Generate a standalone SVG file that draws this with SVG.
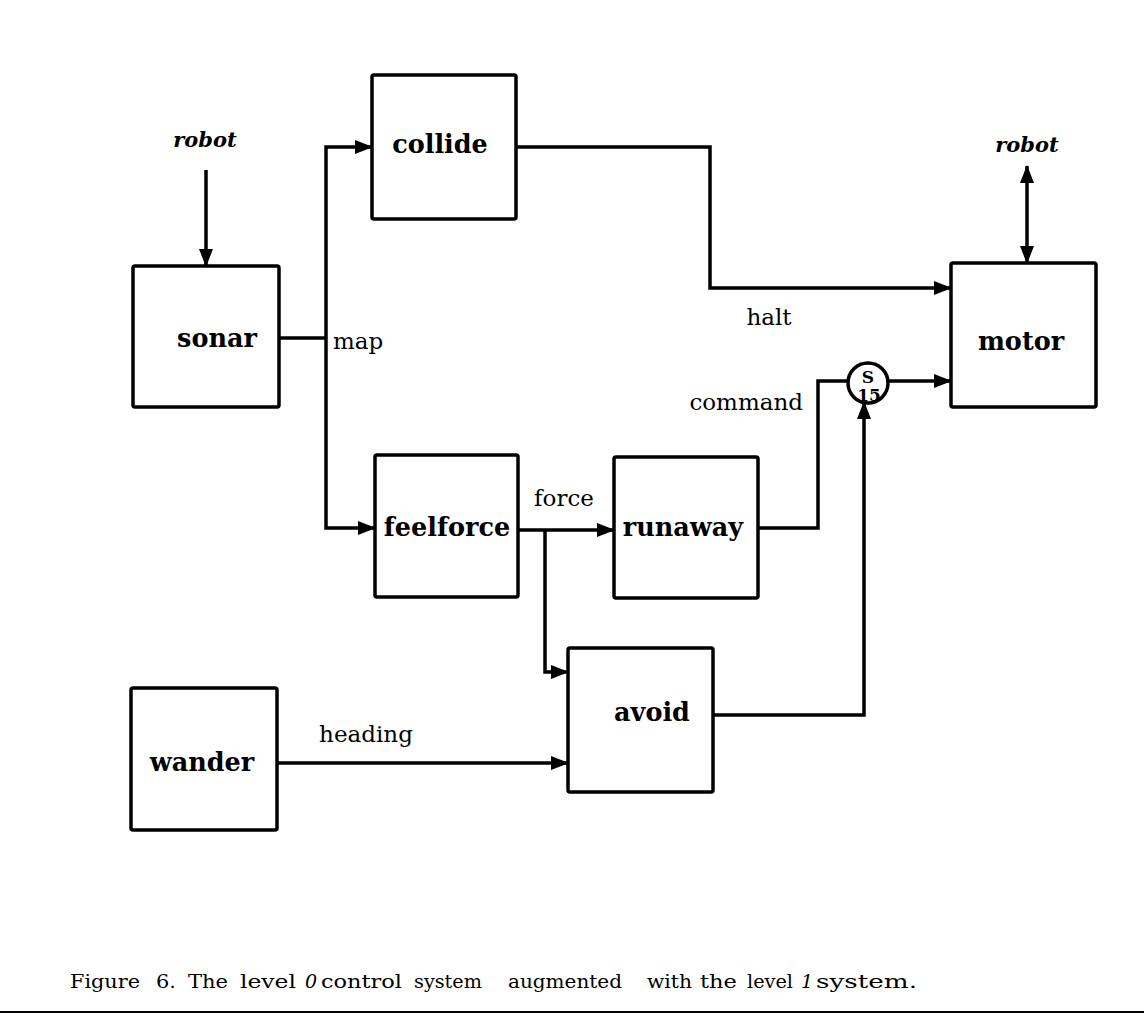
<svg xmlns="http://www.w3.org/2000/svg" width="1144" height="1022" viewBox="0 0 1144 1022">
<style>
.box{fill:#fff;stroke:#000;stroke-width:3.5}
.wire{fill:none;stroke:#000;stroke-width:3.5;stroke-linejoin:miter}
.node{font-family:"DejaVu Serif","Liberation Serif",serif;font-weight:bold;font-size:25.5px;fill:#000;text-anchor:middle}
.lbl{font-family:"DejaVu Serif","Liberation Serif",serif;font-size:23px;fill:#000}
.rob{font-family:"DejaVu Serif","Liberation Serif",serif;font-weight:bold;font-style:italic;font-size:21px;fill:#000;text-anchor:middle}
.cap{font-family:"DejaVu Serif","Liberation Serif",serif;font-size:19px;fill:#000}
.sup{font-family:"DejaVu Serif","Liberation Serif",serif;font-weight:bold;font-size:17px;fill:#000;text-anchor:middle}
</style>
<defs>
<marker id="arr" markerUnits="userSpaceOnUse" markerWidth="18" markerHeight="16" refX="17" refY="8" orient="auto-start-reverse">
<path d="M0,1 L18,8 L0,15 z" fill="#000"/>
</marker>
</defs>
<rect width="1144" height="1022" fill="#fff"/>

<g id="connectors">
<path class="wire" d="M206,170 V266" marker-end="url(#arr)"/>
<path class="wire" d="M279,338 H326"/>
<path class="wire" d="M326,338 V147 H372" marker-end="url(#arr)"/>
<path class="wire" d="M326,338 V528 H375" marker-end="url(#arr)"/>
<path class="wire" d="M516,147 H710 V288 H951" marker-end="url(#arr)"/>
<path class="wire" d="M518,530 H614" marker-end="url(#arr)"/>
<path class="wire" d="M545,530 V672 H568" marker-end="url(#arr)"/>
<path class="wire" d="M758,528 H818 V381 H848"/>
<path class="wire" d="M888,381 H951" marker-end="url(#arr)"/>
<path class="wire" d="M713,715 H864 V402" marker-end="url(#arr)"/>
<path class="wire" d="M277,763 H568" marker-end="url(#arr)"/>
<path class="wire" d="M1027,166 V263" marker-start="url(#arr)" marker-end="url(#arr)"/>
</g>

<g id="robot-in"><text class="rob" x="205" y="147">robot</text></g>
<g id="robot-out"><text class="rob" x="1027" y="152">robot</text></g>

<g id="sonar">
<rect class="box" x="133" y="266" width="146" height="141" rx="2"/>
<text class="node" x="217" y="347">sonar</text>
</g>
<g id="collide">
<rect class="box" x="372" y="75" width="144" height="144" rx="2"/>
<text class="node" x="440" y="153">collide</text>
</g>
<g id="feelforce">
<rect class="box" x="375" y="455" width="143" height="142" rx="2"/>
<text class="node" x="447" y="536">feelforce</text>
</g>
<g id="runaway">
<rect class="box" x="614" y="457" width="144" height="141" rx="2"/>
<text class="node" x="683" y="536">runaway</text>
</g>
<g id="avoid">
<rect class="box" x="568" y="648" width="145" height="144" rx="2"/>
<text class="node" x="652" y="721">avoid</text>
</g>
<g id="wander">
<rect class="box" x="131" y="688" width="146" height="142" rx="2"/>
<text class="node" x="202" y="771">wander</text>
</g>
<g id="motor">
<rect class="box" x="951" y="263" width="145" height="144" rx="2"/>
<text class="node" x="1021" y="350">motor</text>
</g>
<g id="suppressor">
<circle cx="868" cy="383" r="20" fill="#fff" stroke="#000" stroke-width="3.5"/>
<text class="sup" x="868" y="383">S</text>
<text class="sup" x="869" y="401">15</text>
</g>

<g id="labels">
<text class="lbl" x="333" y="349">map</text>
<text class="lbl" x="769" y="325" text-anchor="middle">halt</text>
<text class="lbl" x="803" y="410" text-anchor="end">command</text>
<text class="lbl" x="564" y="506" text-anchor="middle">force</text>
<text class="lbl" x="366" y="742" text-anchor="middle">heading</text>
</g>

<g id="caption">
<text class="cap" y="988">
<tspan x="70" textLength="70" lengthAdjust="spacingAndGlyphs">Figure</tspan>
<tspan x="156" textLength="20" lengthAdjust="spacingAndGlyphs">6.</tspan>
<tspan x="188" textLength="40" lengthAdjust="spacingAndGlyphs">The</tspan>
<tspan x="240" textLength="56" lengthAdjust="spacingAndGlyphs">level</tspan>
<tspan x="305" font-style="italic">0</tspan>
<tspan x="321" textLength="81" lengthAdjust="spacingAndGlyphs">control</tspan>
<tspan x="414" textLength="68" lengthAdjust="spacingAndGlyphs">system</tspan>
<tspan x="508" textLength="114" lengthAdjust="spacingAndGlyphs">augmented</tspan>
<tspan x="647" textLength="45" lengthAdjust="spacingAndGlyphs">with</tspan>
<tspan x="700" textLength="37" lengthAdjust="spacingAndGlyphs">the</tspan>
<tspan x="747" textLength="46" lengthAdjust="spacingAndGlyphs">level</tspan>
<tspan x="801" font-style="italic">1</tspan>
<tspan x="816" textLength="101" lengthAdjust="spacingAndGlyphs">system.</tspan>
</text>
<line x1="0" y1="1012" x2="1144" y2="1012" stroke="#000" stroke-width="2"/>
</g>
</svg>
